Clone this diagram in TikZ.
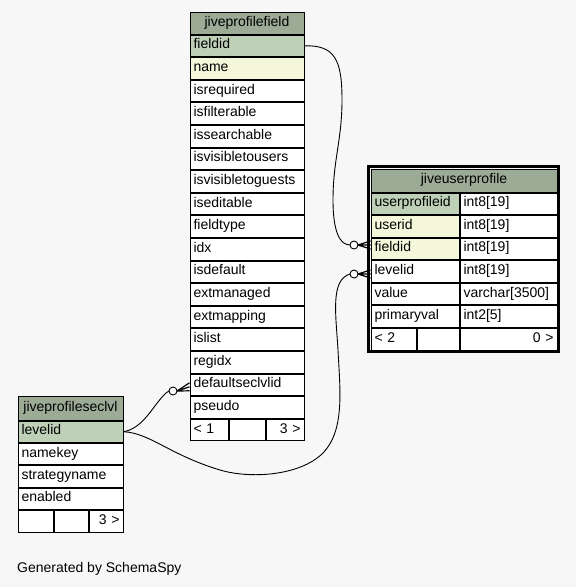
\documentclass[tikz,border=0pt]{standalone}
\usepackage{fontspec}
\setmainfont{Liberation Sans}
\usetikzlibrary{calc}
\definecolor{bgc}{HTML}{F7F7F7}
\definecolor{hdr}{HTML}{9BAB96}
\definecolor{pkc}{HTML}{BED1B8}
\definecolor{idxc}{HTML}{F4F7DA}
\tikzset{
  cellbox/.style={draw=black, line width=1pt, anchor=north west, inner xsep=3pt, inner ysep=0pt,
    text height=10pt, text depth=4pt,
    font=\fontsize{14}{16}\selectfont, text=black},
  conn/.style={draw=black, line width=0.9pt},
  crowline/.style={draw=black, line width=1.2pt},
}
\newcommand\tcell[8]{%
  \pgfmathsetmacro\cw{#4-#2-1}%
  \pgfmathsetmacro\ch{#5-#3-1}%
  \pgfmathsetmacro\tw{#4-#2-8}%
  \node[cellbox, fill=#6, minimum width=\cw pt, minimum height=\ch pt, text width=\tw pt, align=#7] (#1) at ({#2+0.5},{#3+0.5}) {#8};}
\newcommand\crowfoot[2]{%
  \draw[conn, fill=white] (#1) circle[radius=4pt];
  \draw[crowline] ([xshift=4pt]#1) -- ([yshift=4pt]#2) ([xshift=4pt]#1) -- (#2) ([xshift=4pt]#1) -- ([yshift=-4pt]#2);}
\begin{document}
\begin{tikzpicture}[x=1pt, y=-1pt]
\useasboundingbox (0,0) rectangle (576,587);
\fill[bgc] (0,0) rectangle (576,587);

% jiveprofilefield
\tcell{pf-h}{189}{11}{304}{34}{hdr}{center}{jiveprofilefield}
\foreach \t [count=\i from 0] in {fieldid,name,isrequired,isfilterable,issearchable,isvisibletousers,isvisibletoguests,iseditable,fieldtype,idx,isdefault,extmanaged,extmapping,islist,regidx,defaultseclvlid,pseudo}{
  \pgfmathsetmacro\ya{34+22.6*\i}\pgfmathsetmacro\yb{\ya+22.6}
  \ifnum\i=0 \def\fc{pkc}\else\ifnum\i=1 \def\fc{idxc}\else\def\fc{white}\fi\fi
  \tcell{pf-\t}{189}{\ya}{304}{\yb}{\fc}{left}{\t}
}
\tcell{pf-f1}{189}{418.2}{228}{440.8}{white}{left}{< 1}
\tcell{pf-f2}{228}{418.2}{265}{440.8}{white}{left}{}
\tcell{pf-f3}{265}{418.2}{304}{440.8}{white}{right}{3 >}

% jiveprofileseclvl
\tcell{sl-h}{17}{395}{123}{420}{hdr}{center}{jiveprofileseclvl}
\foreach \t [count=\i from 0] in {levelid,namekey,strategyname,enabled}{
  \pgfmathsetmacro\ya{420+22.4*\i}\pgfmathsetmacro\yb{\ya+22.4}
  \ifnum\i=0 \def\fc{pkc}\else\def\fc{white}\fi
  \tcell{sl-\t}{17}{\ya}{123}{\yb}{\fc}{left}{\t}
}
\tcell{sl-f1}{17}{509.6}{53}{532}{white}{left}{}
\tcell{sl-f2}{53}{509.6}{88}{532}{white}{left}{}
\tcell{sl-f3}{88}{509.6}{123}{532}{white}{right}{3 >}

% jiveuserprofile
\tcell{up-h}{370}{168}{557}{192}{hdr}{center}{jiveuserprofile}
\foreach \t/\ty [count=\i from 0] in {userprofileid/int8[19],userid/int8[19],fieldid/int8[19],levelid/int8[19],value/varchar[3500],primaryval/int2[5]}{
  \pgfmathsetmacro\ya{192+22.57*\i}\pgfmathsetmacro\yb{\ya+22.57}
  \ifnum\i=0 \def\fc{pkc}\else\ifnum\i<3 \def\fc{idxc}\else\def\fc{white}\fi\fi
  \tcell{up-\t}{370}{\ya}{459}{\yb}{\fc}{left}{\t}
  \tcell{up-\t-type}{459}{\ya}{557}{\yb}{white}{left}{\ty}
}
\tcell{up-f1}{370}{327.4}{416}{350}{white}{left}{< 2}
\tcell{up-f2}{416}{327.4}{459}{350}{white}{left}{}
\tcell{up-f3}{459}{327.4}{557}{350}{white}{right}{0 >}

% connectors
\coordinate (c1) at (354,245);
\coordinate (c2) at (354,274);
\coordinate (c3) at (173,391);
\coordinate (e1) at (up-fieldid.west |- c1);
\coordinate (e2) at (up-levelid.west |- c2);
\coordinate (e3) at ([yshift=-2pt]pf-defaultseclvlid.west);

\draw[conn] (pf-fieldid.east) .. controls (335,45) and (342,60) .. (342,100)
  .. controls (342,140) and (333,160) .. (333,200)
  .. controls (333,232) and (340,245) .. ([xshift=-4pt]c1);
\draw[conn] (sl-levelid.east) .. controls (150,433) and (170,455) .. (220,470)
  .. controls (250,479) and (300,476) .. (323,453)
  .. controls (345,430) and (340,390) .. (338,350)
  .. controls (336,315) and (330,280) .. ([xshift=-4pt]c2);
\draw[conn] (sl-levelid.east) .. controls (140,429) and (150,412) .. (158,402)
  .. controls (162,397) and (165,393) .. ([xshift=-4pt]c3);
\crowfoot{c1}{e1}
\crowfoot{c2}{e2}
\crowfoot{c3}{e3}

% outer border of jiveuserprofile
\draw[line width=3pt] (368.5,166.5) rectangle (558.5,351.5);

\node[font=\fontsize{14}{16}\selectfont, anchor=base west, inner sep=0pt] (gen) at (17,572) {Generated by SchemaSpy};
\end{tikzpicture}
\end{document}
